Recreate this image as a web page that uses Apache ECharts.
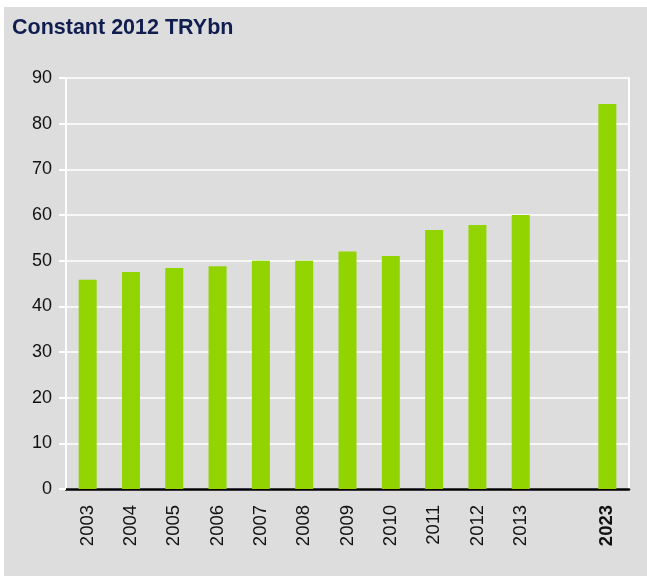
<!DOCTYPE html>
<html>
<head>
<meta charset="utf-8">
<script src="https://cdn.jsdelivr.net/npm/echarts@6/dist/echarts.min.js"></script>
<style>
  html, body { margin: 0; padding: 0; background: #ffffff; }
  #chart { position: absolute; left: 4px; top: 7px; width: 643px; height: 569px; }
</style>
</head>
<body>
<div id="chart"></div>
<script>
// Real spending, constant 2012 prices (TRY billions); the blank slot separates the 2023 projection
const categories = ['2003', '2004', '2005', '2006', '2007', '2008', '2009', '2010', '2011', '2012', '2013', '', '2023'];
const values = [45.8, 47.5, 48.4, 48.8, 50.0, 50.0, 52.0, 51.0, 56.7, 57.8, 60.0, null, 84.3];
const yTicks = { min: 0, max: 90, step: 10 };
const highlightCategory = '2023';

const chart = echarts.init(document.getElementById('chart'), null, { renderer: 'canvas' });

chart.setOption({
  backgroundColor: '#dddddd',
  animation: false,
  textStyle: { fontFamily: 'Liberation Sans, Arial, sans-serif' },
  title: {
    text: 'Constant 2012 TRYbn',
    left: 8,
    top: 10,
    padding: 0,
    textStyle: { fontSize: 21.5, fontWeight: 'bold', color: '#101d4f', fontFamily: 'Liberation Sans, Arial, sans-serif' }
  },
  grid: { left: 62, right: 18, top: 71, bottom: 87, containLabel: false },
  xAxis: {
    type: 'category',
    data: categories,
    axisLine: { show: true, lineStyle: { color: '#000000', width: 2.5 } },
    axisTick: { show: false },
    splitLine: { show: false },
    axisLabel: {
      rotate: 90,
      margin: 16,
      interval: 0,
      fontSize: 18.5,
      color: '#111111',
      formatter: function (v) { return v === highlightCategory ? '{b|' + v + '}' : v; },
      rich: { b: { fontWeight: 'bold', fontSize: 18.5, color: '#111111' } }
    }
  },
  yAxis: [
    {
      type: 'value',
      min: yTicks.min,
      max: yTicks.max,
      interval: yTicks.step,
      axisLine: { show: true, lineStyle: { color: '#ffffff', width: 2 } },
      axisTick: { show: true, length: 7, lineStyle: { color: '#ffffff', width: 2 } },
      axisLabel: { margin: 14, fontSize: 18, color: '#111111' },
      splitLine: { show: true, lineStyle: { color: '#ffffff', width: 1.5 } }
    },
    {
      type: 'value',
      position: 'right',
      min: yTicks.min,
      max: yTicks.max,
      interval: yTicks.step,
      axisLine: { show: true, lineStyle: { color: '#ffffff', width: 2 } },
      axisTick: { show: false },
      axisLabel: { show: false },
      splitLine: { show: false }
    }
  ],
  series: [
    {
      type: 'bar',
      data: values,
      barWidth: 18,
      itemStyle: { color: '#92d400' },
      z: 3
    }
  ]
});
</script>
</body>
</html>
